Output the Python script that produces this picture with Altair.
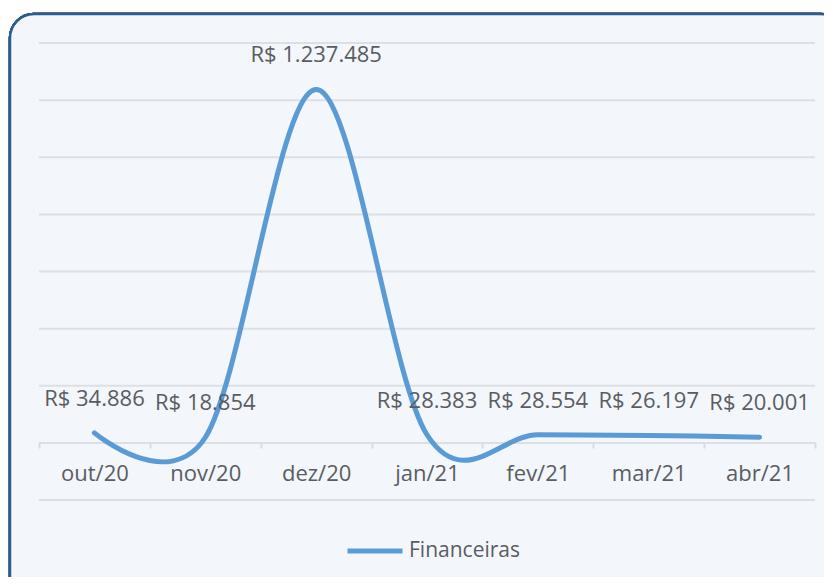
import altair as alt
import pandas as pd

months = ["out/20", "nov/20", "dez/20", "jan/21", "fev/21", "mar/21", "abr/21"]
values = [34886, 18854, 1237485, 28383, 28554, 26197, 20001]
labels = ["R$ 34.886", "R$ 18.854", "R$ 1.237.485", "R$ 28.383", "R$ 28.554", "R$ 26.197", "R$ 20.001"]
series = ["Financeiras"] * len(months)
grid_values = [-200000, 0, 200000, 400000, 600000, 800000, 1000000, 1200000, 1400000]

df = pd.DataFrame({"mes": months, "valor": values, "rotulo": labels, "serie": series})
gdf = pd.DataFrame({"g": grid_values})

W, H = 776, 457
FONT = "Open Sans"
TXT = "#595d63"
FS = 22

xenc = alt.X("mes:N", sort=months, bandPosition=0.5,
             scale=alt.Scale(type="band", paddingInner=0, paddingOuter=0),
             axis=alt.Axis(title=None, offset=-58, tickBand="extent", ticks=True, tickSize=6,
                           tickColor="#d9dce1", tickWidth=2, domain=False, zindex=1,
                           labelFont=FONT, labelFontSize=FS, labelColor=TXT, labelPadding=15,
                           labelAngle=0, grid=False))
yscale = alt.Scale(domain=[-200000, 1400000], nice=False, zero=False)

frame = alt.Chart(df).mark_rect(cornerRadius=24, fill="#f3f6fa", stroke="#2e5d8c",
                                strokeWidth=2.5).encode(
    x=alt.value(-29), x2=alt.value(805), y=alt.value(-29), y2=alt.value(600))

grid = alt.Chart(gdf).mark_rule(color="#dcdfe4", strokeWidth=2).encode(
    x=alt.value(0), x2=alt.value(W),
    y=alt.Y("g:Q", scale=yscale, axis=None))

line = alt.Chart(df).mark_line(strokeWidth=5, interpolate="cardinal", strokeCap="round").encode(
    x=xenc,
    y=alt.Y("valor:Q", scale=yscale, axis=None),
    color=alt.Color("serie:N", scale=alt.Scale(range=["#5b9bd5"]),
                    legend=alt.Legend(title=None, orient="none", legendX=306, legendY=478,
                                      symbolType="stroke", symbolSize=3025, symbolStrokeWidth=5,
                                      labelFont=FONT, labelFontSize=21, labelColor=TXT,
                                      labelOffset=4, padding=0, symbolOffset=0)))

text = alt.Chart(df).mark_text(dy=-34, font=FONT, fontSize=FS, color=TXT, baseline="middle").encode(
    x=xenc,
    y=alt.Y("valor:Q", scale=yscale, axis=None),
    text="rotulo:N")

chart = alt.layer(frame, grid, line, text).resolve_scale(y="shared").properties(
    width=W, height=H,
    autosize=alt.AutoSizeParams(type="none"),
    padding={"left": 31, "top": 35, "right": 9, "bottom": 77},
    background="white",
).configure_view(stroke=None)

chart.save("out.html", embed_options={"renderer": "svg", "actions": False})
